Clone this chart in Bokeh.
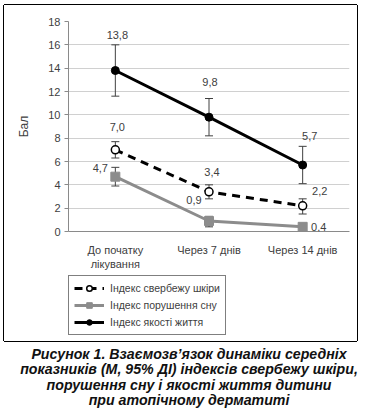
from bokeh.plotting import figure
from bokeh.layouts import column
from bokeh.models import (ColumnDataSource, FactorRange, Whisker, TeeHead, LabelSet,
                          Legend, LegendItem, Range1d, FixedTicker, Div, InlineStyleSheet)
from bokeh.embed import file_html
from bokeh.resources import INLINE
from bokeh.core.properties import value

# ---- data ----
categories = ["До початку\nлікування", "Через 7 днів", "Через 14 днів"]
itch = [7.0, 3.4, 2.2]
itch_lo = [6.3, 2.8, 1.5]
itch_hi = [7.7, 4.0, 2.8]
sleep = [4.7, 0.9, 0.4]
sleep_lo = [3.9, 0.4, 0.3]
sleep_hi = [5.5, 1.3, 0.5]
qol = [13.8, 9.8, 5.7]
qol_lo = [11.6, 8.2, 4.1]
qol_hi = [16.0, 11.4, 7.3]
series_names = ["Індекс свербежу шкіри", "Індекс порушення сну", "Індекс якості життя"]
y_ticks = [0, 2, 4, 6, 8, 10, 12, 14, 16, 18]
y_label = "Бал"
caption_lines = [
    "Рисунок 1. Взаємозв’язок динаміки середніх",
    "показників (М, 95% ДІ) індексів свербежу шкіри,",
    "порушення сну і якості життя дитини",
    "при атопічному дерматиті",
]

# label placement (screen px offsets), styling only
label_dx = {"itch": [2, 3, 17], "sleep": [-15, -15, 16], "qol": [2, 1, 7]}
label_dy = {"itch": [23, 20, 15], "sleep": [9, 21, 0], "qol": [36, 35, 29]}

FONT = "Liberation Sans"
NAN = float("nan")

# styles
ITCH = dict(line_color="black", line_width=3, line_dash="8 6")
SLEEP = dict(line_color="#8c8c8c", line_width=3)
QOL = dict(line_color="black", line_width=3)
ITCH_M = dict(marker="circle", size=8, fill_color="white", line_color="black", line_width=1.5)
SLEEP_M = dict(marker="square", size=9, fill_color="#8c8c8c", line_color="#8c8c8c")
QOL_M = dict(marker="circle", size=8, fill_color="black", line_color="black")

# outer frame drawn as box-shadows (no effect on layout)
frame_top = InlineStyleSheet(css=":host { box-shadow: -1px 0 0 0 #000, 1px 0 0 0 #000, 0 -1px 0 0 #000; }")
frame_bottom = InlineStyleSheet(css=":host { box-shadow: -1px 0 0 0 #000, 1px 0 0 0 #000, 0 1px 0 0 #000; }")

p = figure(width=353, height=267, output_backend="svg", toolbar_location=None,
           x_range=FactorRange(factors=categories, range_padding=0),
           y_range=Range1d(0, 18),
           min_border_left=64, min_border_right=8, min_border_top=16,
           min_border_bottom=39, margin=(5, 0, 0, 4), stylesheets=[frame_top])
p.outline_line_color = None
p.background_fill_color = "white"
p.border_fill_color = "white"

p.xgrid.grid_line_color = None
p.ygrid.grid_line_color = "#d0d0d0"
p.ygrid.grid_line_width = 1
p.yaxis.ticker = FixedTicker(ticks=y_ticks)
for ax in (p.xaxis[0], p.yaxis[0]):
    ax.axis_line_color = "#8a8a8a"
    ax.major_tick_line_color = "#8a8a8a"
    ax.minor_tick_line_color = None
    ax.major_tick_in = 0
    ax.major_tick_out = 4
    ax.major_label_text_font = FONT
    ax.major_label_text_font_size = "11px"
    ax.major_label_text_color = "#404040"
p.yaxis.major_label_standoff = 4
p.xaxis.major_label_standoff = 8
p.xaxis.major_tick_line_color = None
p.yaxis.axis_label = y_label
p.yaxis.axis_label_text_font = FONT
p.yaxis.axis_label_text_font_style = "normal"
p.yaxis.axis_label_text_font_size = "12px"
p.yaxis.axis_label_text_color = "#404040"
p.yaxis.axis_label_standoff = 14


def fmt(v):
    return f"{v:.1f}".replace(".", ",")


def make_source(vals, lo, hi, key):
    return ColumnDataSource(dict(x=categories, y=vals, lower=lo, upper=hi,
                                 txt=[fmt(v) for v in vals],
                                 dx=label_dx[key], dy=label_dy[key]))


src_itch = make_source(itch, itch_lo, itch_hi, "itch")
src_sleep = make_source(sleep, sleep_lo, sleep_hi, "sleep")
src_qol = make_source(qol, qol_lo, qol_hi, "qol")

# error bars
for src in (src_itch, src_sleep, src_qol):
    w = Whisker(source=src, base="x", upper="upper", lower="lower", dimension="height",
                line_color="#404040", line_width=1,
                upper_head=TeeHead(size=8, line_color="#404040", line_width=1),
                lower_head=TeeHead(size=8, line_color="#404040", line_width=1))
    p.add_layout(w)

# lines + markers
p.line("x", "y", source=src_sleep, **SLEEP)
p.scatter("x", "y", source=src_sleep, **SLEEP_M)
p.line("x", "y", source=src_itch, **ITCH)
p.scatter("x", "y", source=src_itch, **ITCH_M)
p.line("x", "y", source=src_qol, **QOL)
p.scatter("x", "y", source=src_qol, **QOL_M)

for src in (src_itch, src_sleep, src_qol):
    p.add_layout(LabelSet(x="x", y="y", text="txt", source=src, x_offset="dx", y_offset="dy",
                          text_align="center", text_baseline="middle",
                          text_font=value(FONT), text_font_size="11px",
                          text_color="#404040"))

# ---- legend panel (legend keys only, no visible data) ----
lg = figure(width=353, height=69, output_backend="svg", toolbar_location=None,
            x_range=Range1d(0, 1), y_range=Range1d(0, 1),
            x_axis_type=None, y_axis_type=None,
            min_border_left=59, min_border_top=3, min_border_right=0, min_border_bottom=0,
            margin=(0, 0, 0, 4), stylesheets=[frame_bottom])
lg.outline_line_color = None
lg.xgrid.grid_line_color = None
lg.ygrid.grid_line_color = None
keys = []
for ls, ms in ((ITCH, ITCH_M), (SLEEP, SLEEP_M), (QOL, QOL_M)):
    r1 = lg.line(x=[NAN, NAN], y=[NAN, NAN], **ls)
    r2 = lg.scatter(x=[NAN], y=[NAN], **ms)
    keys.append([r1, r2])
legend = Legend(items=[LegendItem(label=n, renderers=k) for n, k in zip(series_names, keys)],
                location="top_left", orientation="vertical",
                border_line_color="black", border_line_width=1,
                background_fill_color="white", background_fill_alpha=1,
                label_text_font=FONT, label_text_font_size="10.5px",
                label_text_color="#404040",
                glyph_width=30, glyph_height=14, label_height=14, spacing=3, padding=5,
                margin=0, label_standoff=6)
lg.add_layout(legend, "center")

caption_html = "<br>".join(caption_lines)
cap = Div(text=caption_html, width=368,
          styles={"font-family": FONT, "font-size": "14.2px", "font-weight": "bold",
                  "font-style": "italic", "text-align": "center", "line-height": "15.4px",
                  "color": "#111111", "margin-top": "6px", "width": "368px"})

layout = column(p, lg, cap, spacing=0)
open("out.html", "w").write(file_html(layout, INLINE))
